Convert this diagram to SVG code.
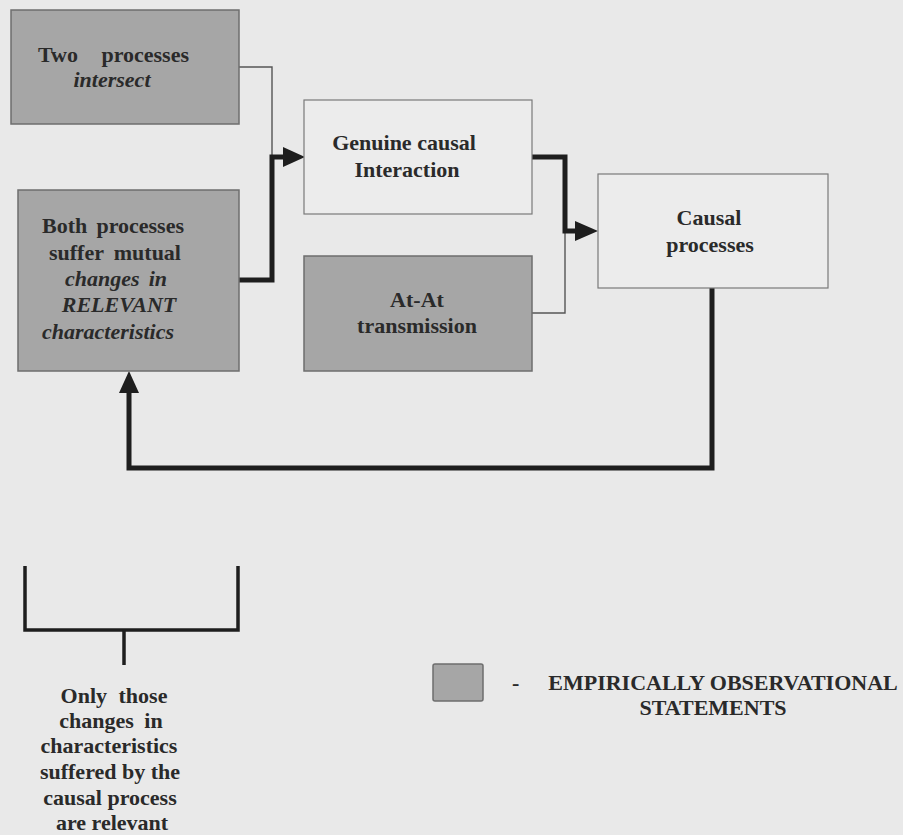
<svg xmlns="http://www.w3.org/2000/svg" width="903" height="835" viewBox="0 0 903 835">
<defs>
<style>
.bg{fill:#e9e9e9}
.grey{fill:#a6a6a6;stroke:#6e6e6e;stroke-width:1.5}
.white{fill:#ececec;stroke:#7a7a7a;stroke-width:1.2}
text{font-family:"Liberation Serif","Times New Roman",serif;font-weight:bold;font-size:22px;fill:#2a2a2a}
.c{text-anchor:middle}
.i{font-style:italic}
.thick{fill:none;stroke:#1e1e1e;stroke-width:5;stroke-linejoin:miter}
.thin{fill:none;stroke:#555;stroke-width:1.4}
.head{fill:#1e1e1e}
</style>
</defs>
<rect class="bg" x="0" y="0" width="903" height="835"/>

<g id="connectors">
<polyline class="thin" points="239,67 272,67 272,157"/>
<polyline class="thick" points="239,280 272,280 272,157 285,157"/>
<polygon class="head" points="283,147 305,157 283,167"/>
<polyline class="thin" points="532,313 565,313 565,232"/>
<polyline class="thick" points="532,157 565,157 565,231 577,231"/>
<polygon class="head" points="575,221 598,231 575,241"/>
<polyline class="thick" points="712,288 712,468 129,468 129,390"/>
<polygon class="head" points="119,393 129,371 139,393"/>
</g>

<g id="node-two-processes">
<rect class="grey" x="11" y="10" width="228" height="114"/>
<text y="62"><tspan x="38">Two</tspan><tspan x="189" text-anchor="end">processes</tspan></text>
<text class="i c" x="112" y="87">intersect</text>
</g>

<g id="node-both-processes">
<rect class="grey" x="18" y="190" width="221" height="181"/>
<text y="233"><tspan x="42">Both</tspan><tspan x="184" text-anchor="end">processes</tspan></text>
<text y="260"><tspan x="49">suffer</tspan><tspan x="181" text-anchor="end">mutual</tspan></text>
<text class="i" y="286"><tspan x="65">changes</tspan><tspan x="167" text-anchor="end">in</tspan></text>
<text class="i c" x="119" y="312">RELEVANT</text>
<text class="i c" x="108" y="339">characteristics</text>
</g>

<g id="node-genuine">
<rect class="white" x="304" y="100" width="228" height="114"/>
<text class="c" x="404" y="150">Genuine causal</text>
<text class="c" x="407" y="177">Interaction</text>
</g>

<g id="node-atat">
<rect class="grey" x="304" y="256" width="228" height="115"/>
<text class="c" x="417" y="307">At-At</text>
<text class="c" x="417" y="333">transmission</text>
</g>

<g id="node-causal">
<rect class="white" x="598" y="174" width="230" height="114"/>
<text class="c" x="709" y="225">Causal</text>
<text class="c" x="710" y="252">processes</text>
</g>

<g id="bracket">
<polyline class="thick" style="stroke-width:3.5" points="25,566 25,630 238,630 238,566"/>
<line class="thick" style="stroke-width:3.5" x1="124" y1="630" x2="124" y2="665"/>
<text class="c" x="110" y="703"><tspan x="114" word-spacing="6">Only those</tspan><tspan x="111" dy="25" word-spacing="5">changes in</tspan><tspan x="109" dy="25">characteristics</tspan><tspan x="110" dy="26">suffered by the</tspan><tspan x="110" dy="26">causal process</tspan><tspan x="112" dy="25">are relevant</tspan></text>
</g>

<g id="legend">
<rect class="grey" x="433" y="664" width="50" height="37" rx="2"/>
<text x="512" y="690">-</text>
<text class="c" x="723" y="690">EMPIRICALLY OBSERVATIONAL</text>
<text class="c" x="713" y="715">STATEMENTS</text>
</g>
</svg>
